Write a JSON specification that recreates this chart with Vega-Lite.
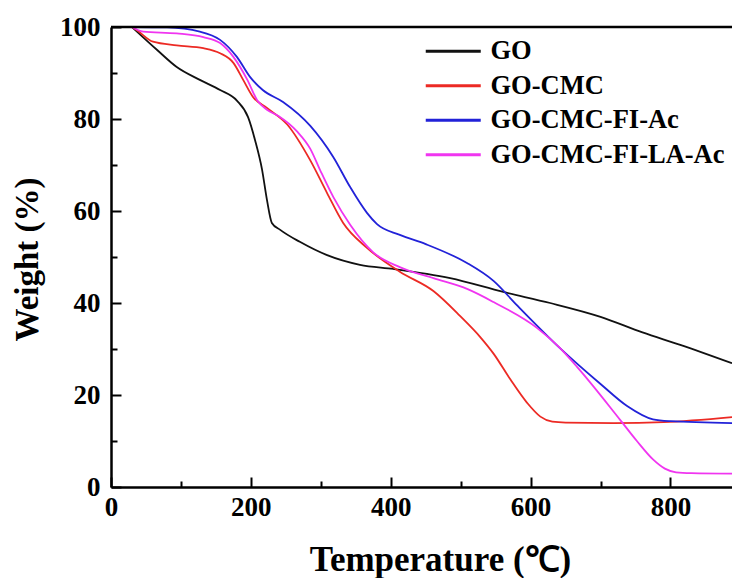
{
  "$schema": "https://vega.github.io/schema/vega-lite/v6.json",
  "width": 621,
  "height": 460,
  "autosize": "none",
  "padding": {"left": 111, "top": 27, "right": 0, "bottom": 91},
  "background": "white",
  "config": {
    "view": {"stroke": null},
    "font": "Liberation Serif"
  },
  "datasets": {
    "tga": [
      {"s": "GO", "t": 30, "w": 100}, {"s": "GO", "t": 66, "w": 95}, {"s": "GO", "t": 94, "w": 91.3}, {"s": "GO", "t": 127, "w": 88.5}, {"s": "GO", "t": 156, "w": 86.3}, {"s": "GO", "t": 180, "w": 84}, {"s": "GO", "t": 196, "w": 80.4}, {"s": "GO", "t": 206, "w": 75.4}, {"s": "GO", "t": 216, "w": 69}, {"s": "GO", "t": 223, "w": 62.4}, {"s": "GO", "t": 230, "w": 57.4}, {"s": "GO", "t": 242, "w": 55.9}, {"s": "GO", "t": 270, "w": 53.3}, {"s": "GO", "t": 309, "w": 50.4}, {"s": "GO", "t": 356, "w": 48.3}, {"s": "GO", "t": 404, "w": 47.4}, {"s": "GO", "t": 485, "w": 45.4}, {"s": "GO", "t": 561, "w": 42.4}, {"s": "GO", "t": 628, "w": 40}, {"s": "GO", "t": 700, "w": 37}, {"s": "GO", "t": 760, "w": 33.6}, {"s": "GO", "t": 814, "w": 30.9}, {"s": "GO", "t": 888, "w": 26.9},
      {"s": "GO-CMC", "t": 30, "w": 100}, {"s": "GO-CMC", "t": 37, "w": 99.3}, {"s": "GO-CMC", "t": 60, "w": 96.8}, {"s": "GO-CMC", "t": 94, "w": 96}, {"s": "GO-CMC", "t": 132, "w": 95.4}, {"s": "GO-CMC", "t": 156, "w": 94.3}, {"s": "GO-CMC", "t": 175, "w": 92.2}, {"s": "GO-CMC", "t": 189, "w": 88.5}, {"s": "GO-CMC", "t": 203, "w": 84.8}, {"s": "GO-CMC", "t": 223, "w": 82.4}, {"s": "GO-CMC", "t": 252, "w": 78.8}, {"s": "GO-CMC", "t": 285, "w": 71}, {"s": "GO-CMC", "t": 309, "w": 63.9}, {"s": "GO-CMC", "t": 332, "w": 57.4}, {"s": "GO-CMC", "t": 366, "w": 52}, {"s": "GO-CMC", "t": 413, "w": 46.8}, {"s": "GO-CMC", "t": 461, "w": 42.6}, {"s": "GO-CMC", "t": 499, "w": 37.2}, {"s": "GO-CMC", "t": 528, "w": 32.6}, {"s": "GO-CMC", "t": 547, "w": 29}, {"s": "GO-CMC", "t": 571, "w": 23.4}, {"s": "GO-CMC", "t": 595, "w": 18.3}, {"s": "GO-CMC", "t": 614, "w": 15.3}, {"s": "GO-CMC", "t": 631, "w": 14.2}, {"s": "GO-CMC", "t": 650, "w": 14}, {"s": "GO-CMC", "t": 719, "w": 13.9}, {"s": "GO-CMC", "t": 790, "w": 14.1}, {"s": "GO-CMC", "t": 888, "w": 15.2},
      {"s": "GO-CMC-FI-Ac", "t": 30, "w": 100}, {"s": "GO-CMC-FI-Ac", "t": 80, "w": 99.9}, {"s": "GO-CMC-FI-Ac", "t": 127, "w": 99}, {"s": "GO-CMC-FI-Ac", "t": 156, "w": 97.2}, {"s": "GO-CMC-FI-Ac", "t": 180, "w": 93.5}, {"s": "GO-CMC-FI-Ac", "t": 199, "w": 89.1}, {"s": "GO-CMC-FI-Ac", "t": 217, "w": 86.3}, {"s": "GO-CMC-FI-Ac", "t": 246, "w": 83.7}, {"s": "GO-CMC-FI-Ac", "t": 285, "w": 78.5}, {"s": "GO-CMC-FI-Ac", "t": 318, "w": 71.7}, {"s": "GO-CMC-FI-Ac", "t": 342, "w": 65.2}, {"s": "GO-CMC-FI-Ac", "t": 366, "w": 59.6}, {"s": "GO-CMC-FI-Ac", "t": 380, "w": 57.2}, {"s": "GO-CMC-FI-Ac", "t": 413, "w": 54.8}, {"s": "GO-CMC-FI-Ac", "t": 450, "w": 52.8}, {"s": "GO-CMC-FI-Ac", "t": 509, "w": 48.7}, {"s": "GO-CMC-FI-Ac", "t": 547, "w": 44.8}, {"s": "GO-CMC-FI-Ac", "t": 580, "w": 39.6}, {"s": "GO-CMC-FI-Ac", "t": 642, "w": 30.2}, {"s": "GO-CMC-FI-Ac", "t": 700, "w": 22.4}, {"s": "GO-CMC-FI-Ac", "t": 738, "w": 17.6}, {"s": "GO-CMC-FI-Ac", "t": 775, "w": 14.7}, {"s": "GO-CMC-FI-Ac", "t": 800, "w": 14.3}, {"s": "GO-CMC-FI-Ac", "t": 888, "w": 13.9},
      {"s": "GO-CMC-FI-LA-Ac", "t": 30, "w": 100}, {"s": "GO-CMC-FI-LA-Ac", "t": 46, "w": 99}, {"s": "GO-CMC-FI-LA-Ac", "t": 94, "w": 98.6}, {"s": "GO-CMC-FI-LA-Ac", "t": 132, "w": 97.8}, {"s": "GO-CMC-FI-LA-Ac", "t": 156, "w": 96.5}, {"s": "GO-CMC-FI-LA-Ac", "t": 175, "w": 93.5}, {"s": "GO-CMC-FI-LA-Ac", "t": 195, "w": 88.5}, {"s": "GO-CMC-FI-LA-Ac", "t": 209, "w": 84.1}, {"s": "GO-CMC-FI-LA-Ac", "t": 223, "w": 82}, {"s": "GO-CMC-FI-LA-Ac", "t": 240, "w": 80.6}, {"s": "GO-CMC-FI-LA-Ac", "t": 266, "w": 77.3}, {"s": "GO-CMC-FI-LA-Ac", "t": 285, "w": 73.5}, {"s": "GO-CMC-FI-LA-Ac", "t": 299, "w": 68.9}, {"s": "GO-CMC-FI-LA-Ac", "t": 318, "w": 63}, {"s": "GO-CMC-FI-LA-Ac", "t": 342, "w": 57}, {"s": "GO-CMC-FI-LA-Ac", "t": 375, "w": 51}, {"s": "GO-CMC-FI-LA-Ac", "t": 413, "w": 47.8}, {"s": "GO-CMC-FI-LA-Ac", "t": 461, "w": 45.4}, {"s": "GO-CMC-FI-LA-Ac", "t": 510, "w": 43}, {"s": "GO-CMC-FI-LA-Ac", "t": 547, "w": 40.2}, {"s": "GO-CMC-FI-LA-Ac", "t": 609, "w": 34.6}, {"s": "GO-CMC-FI-LA-Ac", "t": 640, "w": 30.5}, {"s": "GO-CMC-FI-LA-Ac", "t": 667, "w": 26}, {"s": "GO-CMC-FI-LA-Ac", "t": 728, "w": 14.6}, {"s": "GO-CMC-FI-LA-Ac", "t": 752, "w": 10}, {"s": "GO-CMC-FI-LA-Ac", "t": 775, "w": 6}, {"s": "GO-CMC-FI-LA-Ac", "t": 792, "w": 4}, {"s": "GO-CMC-FI-LA-Ac", "t": 808, "w": 3.2}, {"s": "GO-CMC-FI-LA-Ac", "t": 830, "w": 3.0}, {"s": "GO-CMC-FI-LA-Ac", "t": 888, "w": 2.9}
    ],
    "frame": [{"top": 100}]
  },
  "layer": [
    {
      "data": {"name": "tga"},
      "mark": {"type": "line", "interpolate": "monotone", "strokeWidth": 1.8},
      "encoding": {
        "x": {
          "field": "t", "type": "quantitative",
          "scale": {"domain": [0, 888], "nice": false, "zero": false},
          "axis": {
            "values": [0, 100, 200, 300, 400, 500, 600, 700, 800],
            "labelExpr": "datum.value % 200 === 0 ? datum.label : ''",
            "title": "Temperature (℃)",
            "titleFont": "Liberation Serif", "titleFontWeight": "bold", "titleFontSize": 35, "titleColor": "black",
            "titleX": 329, "titleY": 83, "titleBaseline": "alphabetic", "titleAlign": "center", "titleAnchor": null,
            "labelFont": "Liberation Serif", "labelFontWeight": "bold", "labelFontSize": 27, "labelColor": "black",
            "labelPadding": 17, "labelFlush": false, "labelOverlap": false,
            "domainColor": "black", "domainWidth": 2.5,
            "tickColor": "black", "tickWidth": 2,
            "tickSize": {"condition": {"test": "datum.value % 200 === 0", "value": -10}, "value": -6},
            "grid": false
          }
        },
        "y": {
          "field": "w", "type": "quantitative",
          "scale": {"domain": [0, 100], "nice": false},
          "axis": {
            "values": [0, 10, 20, 30, 40, 50, 60, 70, 80, 90, 100],
            "labelExpr": "datum.value % 20 === 0 ? datum.label : ''",
            "title": "Weight (%)",
            "titleFont": "Liberation Serif", "titleFontWeight": "bold", "titleFontSize": 33, "titleColor": "black",
            "titleX": -74, "titleY": 232, "titleBaseline": "alphabetic", "titleAlign": "center", "titleAnchor": null,
            "labelFont": "Liberation Serif", "labelFontWeight": "bold", "labelFontSize": 27, "labelColor": "black",
            "labelPadding": 21, "labelFlush": false, "labelOverlap": false,
            "domainColor": "black", "domainWidth": 2.5,
            "tickColor": "black", "tickWidth": 2,
            "tickSize": {"condition": {"test": "datum.value % 20 === 0", "value": -10}, "value": -6},
            "grid": false
          }
        },
        "color": {
          "field": "s", "type": "nominal",
          "scale": {
            "domain": ["GO", "GO-CMC", "GO-CMC-FI-Ac", "GO-CMC-FI-LA-Ac"],
            "range": ["#111111", "#ec2a24", "#2222d8", "#f035f0"]
          },
          "legend": {
            "orient": "none", "legendX": 329, "legendY": 11, "title": null,
            "symbolType": "M-2.5,0H2.5", "symbolSize": 484, "symbolStrokeWidth": 2.8,
            "labelFont": "Liberation Serif", "labelFontWeight": "bold", "labelFontSize": 26.5, "labelColor": "black",
            "labelOffset": 24, "rowPadding": 7.5, "labelLimit": 400
          }
        }
      }
    },
    {
      "data": {"name": "frame"},
      "mark": {"type": "rule", "color": "black", "strokeWidth": 2.5},
      "encoding": {"y": {"field": "top", "type": "quantitative"}}
    }
  ]
}
